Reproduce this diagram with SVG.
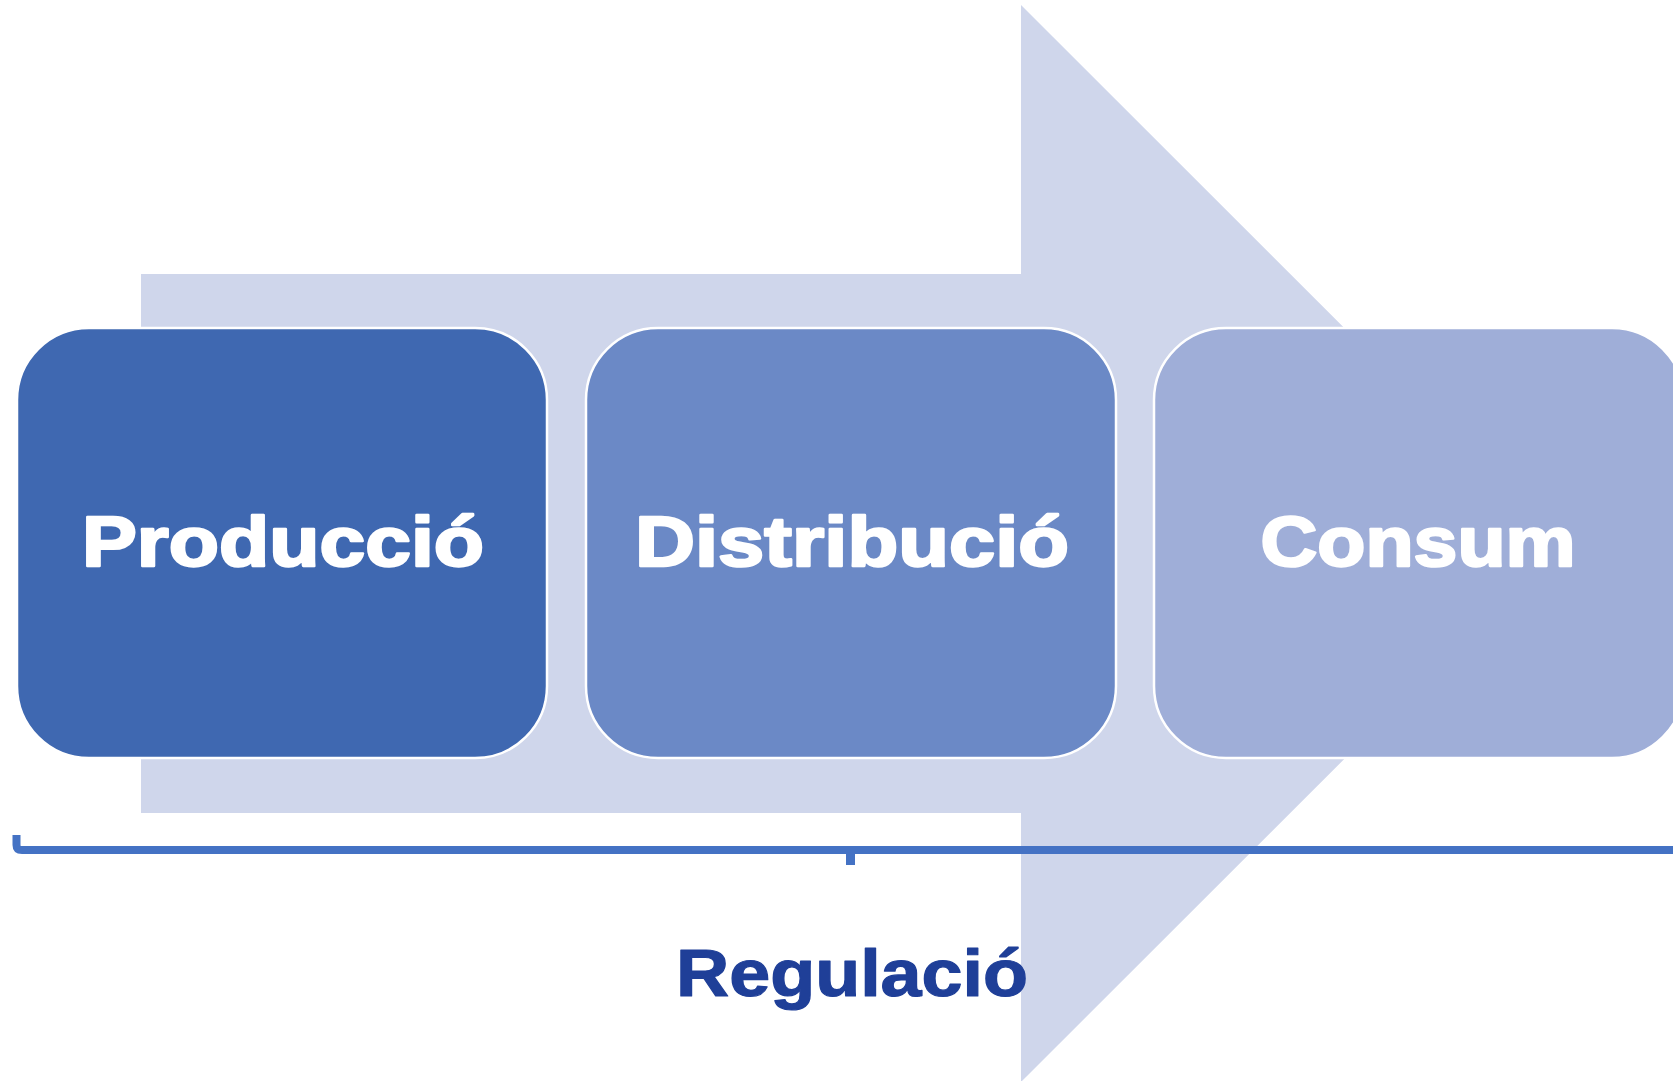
<svg xmlns="http://www.w3.org/2000/svg" width="1673" height="1081" viewBox="0 0 1673 1081">
<style>
.box{stroke:#FFFFFF;stroke-width:2.5}
.lbl{font-family:"Liberation Sans",Arial,sans-serif;font-weight:bold;font-size:71px;fill:#FFFFFF;stroke:#FFFFFF;stroke-width:2.5;stroke-linejoin:round;text-anchor:middle}
.reg{font-family:"Liberation Sans",Arial,sans-serif;font-weight:bold;font-size:66px;fill:#1F3F98;stroke:#1F3F98;stroke-width:1.2;stroke-linejoin:round;text-anchor:middle}
</style>
<rect width="1673" height="1081" fill="#FFFFFF"/>
<g id="arrow">
<polygon points="141,274 1021,274 1021,5 1560,543.5 1021,1082 1021,813 141,813" fill="#CFD6EB"/>
</g>
<g id="produccio">
<rect class="box" x="17" y="328" width="530" height="430" rx="72" ry="72" fill="#3F68B1"/>
<text class="lbl" x="283" y="566" textLength="402" lengthAdjust="spacingAndGlyphs">Producció</text>
</g>
<g id="distribucio">
<rect class="box" x="586" y="328" width="530" height="430" rx="72" ry="72" fill="#6B89C6"/>
<text class="lbl" x="852" y="566" textLength="434" lengthAdjust="spacingAndGlyphs">Distribució</text>
</g>
<g id="consum">
<rect class="box" x="1154" y="328" width="530" height="430" rx="72" ry="72" fill="#9FAED8"/>
<text class="lbl" x="1418" y="566" textLength="315" lengthAdjust="spacingAndGlyphs">Consum</text>
</g>
<g id="connectors">
<path d="M16.5,835 V845 Q16.5,850 22,850 H1680" fill="none" stroke="#4472C4" stroke-width="8"/>
<rect x="846" y="850" width="9" height="15" fill="#4472C4"/>
</g>
<g id="regulacio">
<text class="reg" x="852" y="996" textLength="352" lengthAdjust="spacingAndGlyphs">Regulació</text>
</g>
</svg>
